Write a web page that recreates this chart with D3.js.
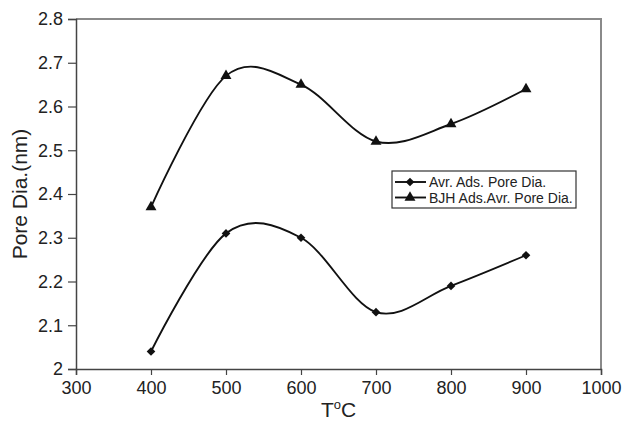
<!DOCTYPE html>
<html>
<head>
<meta charset="utf-8">
<script src="https://cdn.jsdelivr.net/npm/d3@7"></script>
<style>
  body { margin: 0; background: #fff; }
  svg text { font-family: "Liberation Sans", Arial, sans-serif; fill: #222; }
</style>
</head>
<body>
<div id="chart"></div>
<script>
// values
var temps = [400, 500, 600, 700, 800, 900];
var avrAds = [2.04, 2.31, 2.30, 2.13, 2.19, 2.26];
var bjhAds = [2.37, 2.67, 2.65, 2.52, 2.56, 2.64];
var xTicks = [300, 400, 500, 600, 700, 800, 900, 1000];
var yTicks = [2, 2.1, 2.2, 2.3, 2.4, 2.5, 2.6, 2.7, 2.8];
var seriesNames = ["Avr. Ads. Pore Dia.", "BJH Ads.Avr. Pore Dia."];

var width = 623, height = 426;
var margin = {top: 19, right: 22, bottom: 57, left: 76};

var svg = d3.select("#chart").append("svg")
    .attr("width", width)
    .attr("height", height);

var x = d3.scaleLinear().domain([300, 1000]).range([margin.left, width - margin.right]);
var y = d3.scaleLinear().domain([2, 2.8]).range([height - margin.bottom, margin.top]);

// frame: top and right in grey
svg.append("path")
    .attr("d", "M" + x(300) + "," + y(2.8) + "H" + x(1000) + "V" + y(2))
    .attr("fill", "none")
    .attr("stroke", "#8a8a8a")
    .attr("stroke-width", 2);

// axes
var xAxis = svg.append("g")
    .attr("transform", "translate(0," + y(2) + ")")
    .call(d3.axisBottom(x).tickValues(xTicks).tickSize(6).tickPadding(6).tickFormat(d3.format("d")));
var yAxis = svg.append("g")
    .attr("transform", "translate(" + x(300) + ",0)")
    .call(d3.axisLeft(y).tickValues(yTicks).tickSize(8).tickPadding(5).tickFormat(function(d){ return String(+d.toFixed(1)); }));

[xAxis, yAxis].forEach(function(a){
    a.select(".domain").attr("stroke", "#444").attr("stroke-width", 1.5);
    a.selectAll(".tick line").attr("stroke", "#444").attr("stroke-width", 1.2);
    a.selectAll(".tick text").style("font-size", "18px").attr("fill", "#222");
});

// axis titles
svg.append("text")
    .attr("transform", "translate(27," + ((y(2) + y(2.8)) / 2) + ") rotate(-90)")
    .attr("text-anchor", "middle")
    .style("font-size", "21px")
    .text("Pore Dia.(nm)");

var xt = svg.append("text")
    .attr("x", (x(300) + x(1000)) / 2)
    .attr("y", 417)
    .attr("text-anchor", "middle")
    .style("font-size", "21px");
xt.append("tspan").text("T");
xt.append("tspan").attr("dy", -8).style("font-size", "13px").text("o");
xt.append("tspan").attr("dy", 8).text("C");

// smoothed lines
var line = d3.line()
    .x(function(d){ return x(d[0]); })
    .y(function(d){ return y(d[1]); })
    .curve(d3.curveCardinal.tension(0));

var diamond = d3.symbol().type(d3.symbolDiamond2).size(48);
var triangle = d3.symbol().type(d3.symbolTriangle).size(52);

var series = [
    {name: seriesNames[0], values: avrAds, sym: diamond},
    {name: seriesNames[1], values: bjhAds, sym: triangle}
];

series.forEach(function(s){
    var pts = temps.map(function(t, i){ return [t, s.values[i]]; });
    svg.append("path")
        .datum(pts)
        .attr("d", line)
        .attr("fill", "none")
        .attr("stroke", "#111")
        .attr("stroke-width", 1.9);
    svg.append("g").selectAll("path")
        .data(pts)
        .enter()
        .append("path")
        .attr("d", s.sym)
        .attr("transform", function(d){ return "translate(" + x(d[0]) + "," + y(d[1]) + ")"; })
        .attr("fill", "#111");
});

// legend
var lg = svg.append("g").attr("transform", "translate(392,171)");
lg.append("rect")
    .attr("width", 184)
    .attr("height", 37)
    .attr("fill", "#fff")
    .attr("stroke", "#333")
    .attr("stroke-width", 1.2);
series.forEach(function(s, i){
    var yy = 11 + i * 15.5;
    lg.append("line")
        .attr("x1", 3).attr("x2", 34)
        .attr("y1", yy).attr("y2", yy)
        .attr("stroke", "#111").attr("stroke-width", 1.9);
    lg.append("path")
        .attr("d", s.sym)
        .attr("transform", "translate(18," + yy + ")")
        .attr("fill", "#111");
    lg.append("text")
        .attr("x", 37)
        .attr("y", yy + 5)
        .style("font-size", "14px")
        .text(s.name);
});
</script>
</body>
</html>
